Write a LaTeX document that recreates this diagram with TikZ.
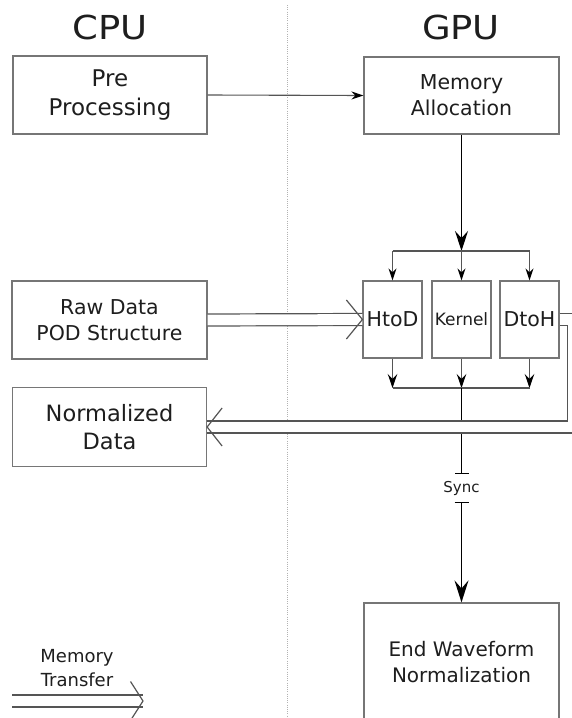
\documentclass[tikz,border=0pt]{standalone}
\usepackage{fontspec}
\setmainfont{DejaVu Sans}
\newfontfamily\titlefont{DejaVu Sans}[FakeStretch=1.12]
\usetikzlibrary{arrows.meta,calc}

\definecolor{boxline}{HTML}{767676}
\definecolor{wire}{HTML}{555555}
\definecolor{ink}{HTML}{1E1E1E}

\tikzset{
  box/.style={draw=boxline, line width=1.2pt, fill=white, inner sep=0pt,
    align=center, text=ink, font=\fontsize{20.5}{26}\selectfont},
  title/.style={text=ink, font=\titlefont\fontsize{33}{38}\selectfont, inner sep=0pt},
  thin/.style={draw=wire, line width=1.1pt},
  thick/.style={draw=black, line width=1.6pt},
  smalltip/.style={-{Stealth[length=12pt,width=8pt,inset=4pt,color=black]}},
  midtip/.style={-{Stealth[length=14pt,width=9.5pt,inset=5pt,color=black]}},
  bigtip/.style={-{Stealth[length=20pt,width=13pt,inset=7pt]}},
  transfer/.style={draw=wire, line width=1.2pt, double=white, double distance=10.8pt},
  chevron/.style={draw=wire, line width=1.2pt, line join=miter}
}

\begin{document}
\begin{tikzpicture}[x=1pt,y=-1pt]
  \clip (0,0) rectangle (572,718);
  \fill[white] (0,0) rectangle (572,718);

  % column divider
  \draw[gray!60, line width=0.9pt, dash pattern=on 1pt off 1.2pt] (287,5) -- (287,718);

  % column headings
  \node[title] (cpu) at (110,27) {CPU};
  \node[title] (gpu) at (461,27) {GPU};

  % host side
  \node[box, minimum width=194pt, minimum height=78pt, font=\fontsize{23}{29}\selectfont] (pre) at (110,95) {Pre\\Processing};
  \node[box, minimum width=195pt, minimum height=78pt] (raw) at (109.5,320) {Raw Data\\POD Structure};
  \node[box, minimum width=194pt, minimum height=79pt, font=\fontsize{22.5}{28}\selectfont] (norm) at (109.5,427) {Normalized\\Data};

  % device side
  \node[box, minimum width=195pt, minimum height=77pt] (mem) at (461.5,95.5) {Memory\\Allocation};
  \node[box, minimum width=59pt, minimum height=77pt] (htod) at (392.5,319.5) {HtoD};
  \node[box, minimum width=59pt, minimum height=77pt, font=\fontsize{17}{20}\selectfont] (kern) at (461.5,319.5) {Kernel};
  \node[box, minimum width=59pt, minimum height=77pt] (dtoh) at (529.5,319.5) {DtoH};
  \node[box, minimum width=195pt, minimum height=119pt, font=\fontsize{20}{26}\selectfont] (endw) at (461.5,662.5) {End Waveform\\Normalization};

  % synchronisation point
  \node[text=ink, font=\fontsize{15}{17}\selectfont, inner sep=0pt, minimum height=27.5pt] (sync) at (461.5,488) {Sync};

  % fork and join points
  \coordinate (split) at (461.5,251);
  \coordinate (join) at (461.5,388);

  % control flow
  \draw[thin, smalltip] (pre.east) -- (mem.west);
  \draw[thick, bigtip] (mem.south) -- (split);
  \draw[thin] (htod.north |- split) -- (dtoh.north |- split);
  \foreach \n in {htod,kern,dtoh}{
    \draw[thin, smalltip] (\n.north |- split) -- (\n.north);
    \draw[thin, midtip] (\n.south) -- (\n.south |- join);
  }
  \draw[thin] (htod.south |- join) -- (dtoh.south |- join);
  \draw[thick, -{Bar[width=14pt,line width=1.2pt]}] (join) -- (sync.north);
  \draw[thick, {Bar[width=14pt,line width=1.2pt]}-{Stealth[length=22pt,width=14pt,inset=8pt]}] (sync.south) -- (endw.north);

  % memory transfers
  \draw[transfer] (raw.east) -- (htod.west);
  \draw[chevron] ($(htod.west)+(-16,-19.5)$) -- (htod.west) -- ($(htod.west)+(-16,19.5)$);

  \draw[transfer] (dtoh.east) -- ++(13.5,0) |- (norm.east);
  \draw[chevron] ($(norm.east)+(15,-19)$) -- (norm.east) -- ($(norm.east)+(15,19)$);

  % legend
  \node[text=ink, align=center, font=\fontsize{18}{24}\selectfont, inner sep=0pt] (legend) at (77,668) {Memory\\Transfer};
  \coordinate (lgs) at (12,701);
  \coordinate (lge) at (143,701);
  \draw[transfer] (lgs) -- (lge);
  \draw[chevron] ($(lge)+(-12.5,-19.5)$) -- (lge) -- ($(lge)+(-12.5,19.5)$);
\end{tikzpicture}
\end{document}
